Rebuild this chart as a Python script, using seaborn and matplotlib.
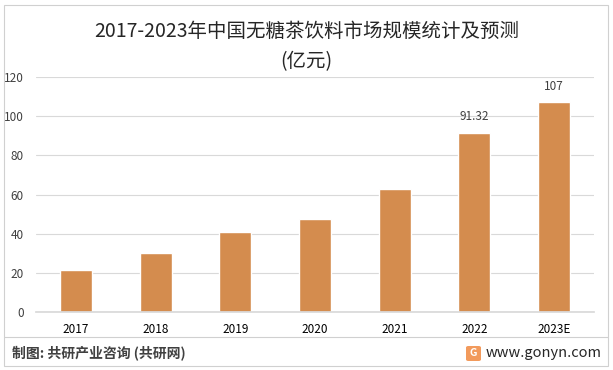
import matplotlib
matplotlib.use("Agg")
import matplotlib.pyplot as plt
import seaborn as sns
import pandas as pd
from matplotlib.patches import Rectangle, FancyBboxPatch
from matplotlib.lines import Line2D

## ===================== data =====================
years = ["2017", "2018", "2019", "2020", "2021", "2022", "2023E"]
market_size = [21.4, 30.1, 40.9, 47.5, 62.8, 91.32, 107]
labelled = {"2022": "91.32", "2023E": "107"}

title = "2017-2023年中国无糖茶饮料市场规模统计及预测"
unit = "(亿元)"
source = "制图: 共研产业咨询 (共研网)"
site = "www.gonyn.com"

## ===================== draw =====================
sns.set_theme(style="white")
plt.rcParams["font.family"] = ["Noto Sans CJK SC", "DejaVu Sans"]

df = pd.DataFrame({"year": years, "size": market_size})

W, H = 613, 370
fig = plt.figure(figsize=(W / 100, H / 100), dpi=100)
fig.patch.set_facecolor("white")

ax = fig.add_axes([36 / W, 1 - 312 / H, (594 - 36) / W, (312 - 77) / H])
sns.barplot(data=df, x="year", y="size", ax=ax, color="#D48C4E",
            saturation=1, width=0.4)

ax.set_ylim(0, 120)
ax.set_xlim(-0.5, 6.5)
ax.set_yticks(range(0, 121, 20))
ax.yaxis.grid(True, color="#D9D9D9", linewidth=0.8)
ax.set_axisbelow(True)
for s in ["top", "right", "left"]:
    ax.spines[s].set_visible(False)
ax.spines["bottom"].set_color("#D9D9D9")
ax.tick_params(axis="y", length=0, pad=9, labelsize=8.5, labelcolor="#404040")
ax.tick_params(axis="x", length=0, pad=8, labelsize=8.5, labelcolor="#000000")
ax.set_xlabel("")
ax.set_ylabel("")

for i, y in enumerate(years):
    if y in labelled:
        ax.text(i, market_size[i] + 5, labelled[y], ha="center", va="bottom",
                fontsize=8.5, color="#404040")

fig.text(0.5, 1 - 31 / H, title, ha="center", va="center", fontsize=14,
         color="#262626")
fig.text(0.5, 1 - 62 / H, unit, ha="center", va="center", fontsize=14,
         color="#262626")

# outer frame and footer line
fig.patches.append(Rectangle((4 / W, 4 / H), 1 - 9 / W, 1 - 9 / H,
                             transform=fig.transFigure, fill=False,
                             edgecolor="#D0D0D0", linewidth=0.8))
fig.lines.append(Line2D([4 / W, 1 - 5 / W], [1 - 337 / H, 1 - 337 / H],
                        transform=fig.transFigure, color="#D0D0D0", linewidth=0.8))

fig.text(12 / W, 1 - 353 / H, source, ha="left", va="center", fontsize=10,
         fontweight="bold", color="#404040")
fig.patches.append(FancyBboxPatch((466 / W, 1 - 361 / H), 15 / W, 15 / H,
                                  boxstyle="round,pad=0,rounding_size=0.004",
                                  transform=fig.transFigure,
                                  facecolor="#F29A5C", edgecolor="none"))
fig.text(473.5 / W, 1 - 353.5 / H, "G", ha="center", va="center", fontsize=7.5,
         fontweight="bold", color="white")
fig.text(1 - 11 / W, 1 - 353 / H, site, ha="right", va="center", fontsize=10.5,
         color="#262626")

plt.savefig("out.png", dpi=100)
